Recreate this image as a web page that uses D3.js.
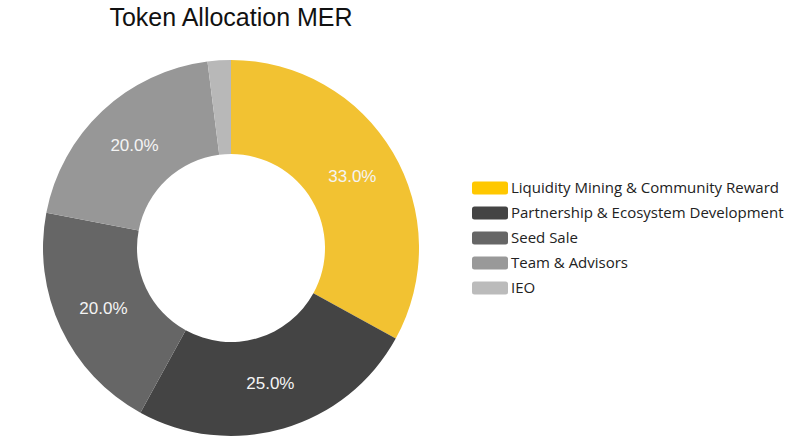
<!DOCTYPE html>
<html>
<head>
<meta charset="utf-8">
<script src="https://cdn.jsdelivr.net/npm/d3@7"></script>
<style>
  body { margin: 0; background: #fff; }
</style>
</head>
<body>
<svg id="donut"></svg>
<script>
var categories = ["Liquidity Mining & Community Reward", "Partnership & Ecosystem Development", "Seed Sale", "Team & Advisors", "IEO"];
var values = [33, 25, 20, 20, 2];
var sliceColors = ["#f2c232", "#444444", "#666666", "#979797", "#b8b8b8"];
var legendColors = ["#ffc800", "#444444", "#666666", "#999999", "#bbbbbb"];

var width = 800, height = 441;
var cx = 231, cy = 248, outerR = 188, innerR = 94;

var svg = d3.select("#donut")
    .attr("width", width)
    .attr("height", height);

svg.append("text")
    .attr("x", 231)
    .attr("y", 26)
    .attr("text-anchor", "middle")
    .attr("font-family", "Liberation Sans, Arial, sans-serif")
    .attr("font-size", "25px")
    .attr("fill", "#111")
    .text("Token Allocation MER");

var pie = d3.pie().sort(null).value(d => d);
var arc = d3.arc().innerRadius(innerR).outerRadius(outerR);
var labelArc = d3.arc().innerRadius((innerR + outerR) / 2).outerRadius((innerR + outerR) / 2);
var total = d3.sum(values);

var g = svg.append("g")
    .attr("transform", "translate(" + cx + "," + cy + ")");

var arcs = pie(values);

g.selectAll("path")
    .data(arcs)
    .enter()
    .append("path")
    .attr("d", arc)
    .attr("fill", (d, i) => sliceColors[i]);

g.selectAll("text")
    .data(arcs.filter(d => d.data / total >= 0.05))
    .enter()
    .append("text")
    .attr("transform", d => "translate(" + labelArc.centroid(d) + ")")
    .attr("dy", "0.35em")
    .attr("text-anchor", "middle")
    .attr("font-family", "Liberation Sans, Arial, sans-serif")
    .attr("font-size", "17px")
    .attr("fill", "#f4f4f4")
    .text(d => (d.data / total * 100).toFixed(1) + "%");

// legend
var y = d3.scaleBand()
    .domain(categories)
    .range([175.5, 300.5]);

var legend = svg.append("g");

var rows = legend.selectAll("g")
    .data(categories)
    .enter()
    .append("g")
    .attr("transform", d => "translate(472," + y(d) + ")");

rows.append("rect")
    .attr("width", 36)
    .attr("height", 13)
    .attr("y", (y.bandwidth() - 13) / 2)
    .attr("rx", 2.5)
    .attr("fill", (d, i) => legendColors[i]);

rows.append("text")
    .attr("x", 39)
    .attr("y", y.bandwidth() / 2)
    .attr("dy", "0.35em")
    .attr("font-family", "Open Sans, sans-serif")
    .attr("font-size", "15px")
    .attr("fill", "#222")
    .text(d => d);
</script>
</body>
</html>
